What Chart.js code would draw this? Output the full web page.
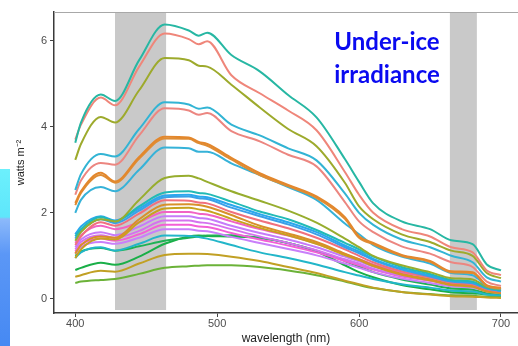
<!DOCTYPE html>
<html>
<head>
<meta charset="utf-8">
<script src="https://cdn.jsdelivr.net/npm/chart.js@4.4.1/dist/chart.umd.min.js"></script>
<style>
	html, body { margin: 0; padding: 0; background: #ffffff; }
	#wrap { position: relative; width: 518px; height: 346px; overflow: hidden; }
	#side {
		position: absolute; left: 0; top: 169px; width: 10px; height: 177px;
		background: linear-gradient(to bottom, #6cf0fc 0px, #5ee6fb 48px, #8cb9fa 50px, #5b97f6 85px, #4689f3 177px);
	}
	#label {
		position: absolute; left: 310px; top: 24px; width: 154px;
		font-family: Lato, "Open Sans", sans-serif; font-weight: bold; font-size: 24px;
		line-height: 33px; color: #0a0af0; text-align: center;
	}
</style>
</head>
<body>
<div id="wrap">
	<canvas id="spec" width="518" height="346"></canvas>
	<div id="side"></div>
	<div id="label">Under-ice<br>irradiance</div>
</div>
<script>
// wavelength grid (nm) shared by every spectrum
var wavelengths = [400, 404, 418, 428, 445, 463, 480, 487, 493, 510, 530, 550, 570, 590, 600, 610, 630, 650, 665, 680, 690, 700];

// shaded wavebands (nm)
var bandStarts = [428, 664];
var bandEnds = [464, 683];

var xTicks = [400, 500, 600, 700];
var yTicks = [0, 2, 4, 6];

// under-ice irradiance spectra, watts m-2
var tealTop   = [3.63, 4.10, 4.75, 4.60, 5.55, 6.38, 6.24, 6.12, 6.19, 5.67, 5.29, 4.74, 4.22, 3.25, 2.72, 2.22, 1.80, 1.62, 1.36, 1.27, 0.80, 0.66];
var salmonTop = [3.70, 4.05, 4.68, 4.50, 5.40, 6.17, 6.04, 5.92, 5.99, 5.20, 4.78, 4.38, 3.92, 2.95, 2.42, 2.00, 1.62, 1.45, 1.20, 1.08, 0.66, 0.55];
var oliveTop  = [3.23, 3.60, 4.23, 4.10, 4.85, 5.60, 5.55, 5.42, 5.40, 4.98, 4.45, 3.95, 3.55, 2.70, 2.15, 1.85, 1.50, 1.32, 1.12, 1.00, 0.60, 0.48];
var tealMid   = [2.53, 2.90, 3.37, 3.31, 3.95, 4.57, 4.52, 4.42, 4.45, 4.05, 3.80, 3.50, 3.22, 2.45, 2.00, 1.72, 1.38, 1.20, 1.00, 0.85, 0.50, 0.40];
var salmonMid = [2.42, 2.75, 3.16, 3.12, 3.80, 4.43, 4.38, 4.28, 4.32, 3.90, 3.66, 3.35, 3.08, 2.25, 1.80, 1.55, 1.22, 1.05, 0.85, 0.74, 0.40, 0.30];
var orangeA   = [2.23, 2.50, 2.93, 2.73, 3.30, 3.77, 3.75, 3.65, 3.60, 3.28, 2.92, 2.65, 2.38, 1.90, 1.45, 1.30, 1.02, 0.88, 0.64, 0.62, 0.32, 0.26];
var orangeB   = [2.18, 2.46, 2.88, 2.70, 3.26, 3.73, 3.72, 3.62, 3.56, 3.24, 2.88, 2.62, 2.35, 1.86, 1.42, 1.27, 1.00, 0.86, 0.62, 0.60, 0.30, 0.24];
var cyanMid   = [2.00, 2.30, 2.60, 2.50, 3.00, 3.52, 3.50, 3.42, 3.42, 3.15, 2.88, 2.60, 2.30, 1.75, 1.50, 1.25, 0.98, 0.82, 0.60, 0.55, 0.30, 0.23];
var oliveMid  = [1.35, 1.55, 1.85, 1.80, 2.30, 2.81, 2.86, 2.80, 2.72, 2.50, 2.28, 2.05, 1.77, 1.40, 1.20, 1.00, 0.78, 0.62, 0.48, 0.45, 0.28, 0.22];
var tealC     = [1.45, 1.62, 1.90, 1.80, 2.15, 2.47, 2.50, 2.46, 2.44, 2.26, 2.03, 1.85, 1.60, 1.30, 1.15, 0.98, 0.74, 0.58, 0.44, 0.40, 0.26, 0.20];
var blueC     = [1.50, 1.68, 1.92, 1.82, 2.10, 2.40, 2.42, 2.38, 2.36, 2.18, 1.97, 1.78, 1.55, 1.24, 1.10, 0.93, 0.70, 0.55, 0.42, 0.38, 0.25, 0.19];
var blueC2    = [1.40, 1.58, 1.85, 1.76, 2.05, 2.36, 2.38, 2.34, 2.32, 2.12, 1.92, 1.73, 1.50, 1.20, 1.06, 0.90, 0.68, 0.52, 0.40, 0.36, 0.24, 0.18];
var salmonC   = [1.25, 1.45, 1.78, 1.70, 1.98, 2.29, 2.28, 2.24, 2.22, 2.02, 1.82, 1.64, 1.42, 1.15, 1.00, 0.85, 0.64, 0.50, 0.38, 0.34, 0.22, 0.17];
var orangeC   = [1.05, 1.25, 1.45, 1.42, 1.85, 2.19, 2.20, 2.18, 2.14, 1.95, 1.70, 1.52, 1.32, 1.05, 0.92, 0.78, 0.58, 0.45, 0.34, 0.30, 0.18, 0.14];
var goldC     = [0.95, 1.15, 1.40, 1.38, 1.78, 2.10, 2.12, 2.08, 2.05, 1.86, 1.65, 1.48, 1.28, 1.02, 0.90, 0.76, 0.56, 0.43, 0.32, 0.28, 0.17, 0.13];
var pinkC     = [1.30, 1.48, 1.70, 1.62, 1.78, 2.02, 2.02, 1.98, 1.96, 1.80, 1.62, 1.47, 1.28, 1.04, 0.92, 0.80, 0.62, 0.50, 0.40, 0.36, 0.25, 0.20];
var violetC   = [1.20, 1.38, 1.55, 1.48, 1.68, 1.92, 1.92, 1.88, 1.86, 1.70, 1.53, 1.38, 1.20, 0.98, 0.87, 0.75, 0.58, 0.46, 0.36, 0.32, 0.22, 0.17];
var orchidC   = [1.15, 1.32, 1.48, 1.42, 1.58, 1.82, 1.82, 1.78, 1.76, 1.62, 1.45, 1.30, 1.13, 0.92, 0.82, 0.70, 0.54, 0.43, 0.34, 0.30, 0.20, 0.16];
var magentaC  = [1.10, 1.25, 1.40, 1.35, 1.50, 1.72, 1.72, 1.68, 1.67, 1.53, 1.38, 1.24, 1.08, 0.88, 0.78, 0.68, 0.52, 0.42, 0.34, 0.30, 0.21, 0.17];
var lilacC    = [1.05, 1.20, 1.32, 1.28, 1.42, 1.62, 1.62, 1.58, 1.57, 1.44, 1.30, 1.16, 1.01, 0.82, 0.72, 0.62, 0.47, 0.37, 0.29, 0.26, 0.17, 0.13];
var tealLow   = [0.95, 1.08, 1.20, 1.12, 1.28, 1.47, 1.46, 1.44, 1.40, 1.25, 1.08, 0.95, 0.80, 0.62, 0.54, 0.46, 0.34, 0.26, 0.19, 0.17, 0.10, 0.08];
var greenMid  = [1.00, 1.10, 1.18, 1.12, 1.22, 1.35, 1.42, 1.45, 1.47, 1.48, 1.42, 1.30, 1.12, 0.88, 0.75, 0.62, 0.45, 0.33, 0.24, 0.21, 0.13, 0.10];
var greenLow  = [0.67, 0.72, 0.84, 0.79, 0.98, 1.28, 1.45, 1.47, 1.46, 1.45, 1.42, 1.30, 1.10, 0.78, 0.62, 0.50, 0.32, 0.22, 0.15, 0.13, 0.10, 0.09];
var goldLow   = [0.51, 0.55, 0.65, 0.63, 0.82, 1.02, 1.05, 1.05, 1.04, 0.98, 0.88, 0.74, 0.60, 0.42, 0.34, 0.26, 0.16, 0.10, 0.06, 0.05, 0.03, 0.02];
var oliveLow  = [0.37, 0.40, 0.44, 0.46, 0.58, 0.72, 0.76, 0.77, 0.78, 0.78, 0.74, 0.66, 0.55, 0.40, 0.32, 0.25, 0.16, 0.11, 0.08, 0.07, 0.05, 0.05];

var spectra = [
	{ values: tealTop, color: "#27b7a3" },
	{ values: salmonTop, color: "#ef867a" },
	{ values: oliveTop, color: "#9daa2c" },
	{ values: tealMid, color: "#32b4d4" },
	{ values: salmonMid, color: "#ec8680" },
	{ values: orangeA, color: "#e3872c" },
	{ values: orangeB, color: "#df8d34" },
	{ values: cyanMid, color: "#36b2d8" },
	{ values: oliveMid, color: "#97ad2e" },
	{ values: tealC, color: "#22bab6" },
	{ values: blueC, color: "#2aa8ee" },
	{ values: blueC2, color: "#3c9fe8" },
	{ values: salmonC, color: "#f0707e" },
	{ values: orangeC, color: "#d8902a" },
	{ values: goldC, color: "#c8a21e" },
	{ values: pinkC, color: "#f163c4" },
	{ values: violetC, color: "#c67bf9" },
	{ values: orchidC, color: "#d572ee" },
	{ values: magentaC, color: "#f35fd6" },
	{ values: lilacC, color: "#c97ffa" },
	{ values: tealLow, color: "#22b6c9" },
	{ values: greenMid, color: "#1fb255" },
	{ values: greenLow, color: "#1aaf48" },
	{ values: goldLow, color: "#c1a024" },
	{ values: oliveLow, color: "#6bb238" },
];

var datasets = spectra.map(function (s) {
	return {
		data: wavelengths.map(function (w, i) { return { x: w, y: s.values[i] }; }),
		borderColor: s.color,
		borderWidth: 2,
		pointRadius: 0,
		cubicInterpolationMode: "monotone",
		fill: false,
	};
});

// grey wavebands behind the spectra, plus the frame line along the top
var bands = {
	id: "bands",
	beforeDatasetsDraw: function (chart) {
		var ctx = chart.ctx, a = chart.chartArea, x = chart.scales.x;
		ctx.save();
		ctx.fillStyle = "#c9c9c9";
		for (var i = 0; i < bandStarts.length; i++) {
			var x0 = x.getPixelForValue(bandStarts[i]);
			var x1 = x.getPixelForValue(bandEnds[i]);
			ctx.fillRect(x0, a.top, x1 - x0, a.bottom - a.top - 3);
		}
		ctx.restore();
	},
	afterDraw: function (chart) {
		var ctx = chart.ctx, a = chart.chartArea;
		ctx.save();
		ctx.strokeStyle = "#a8a8a8";
		ctx.lineWidth = 1;
		ctx.beginPath();
		ctx.moveTo(a.left, a.top + 0.5);
		ctx.lineTo(a.right, a.top + 0.5);
		ctx.stroke();
		ctx.restore();
	},
};

var tickFont = { family: "'Liberation Sans', Arial, sans-serif", size: 11 };

new Chart(document.getElementById("spec"), {
	type: "line",
	data: { datasets: datasets },
	plugins: [bands],
	options: {
		responsive: false,
		animation: false,
		layout: { padding: { top: 12, right: 0, bottom: 0, left: 0 } },
		plugins: { legend: { display: false }, tooltip: { enabled: false } },
		scales: {
			x: {
				type: "linear",
				min: 385,
				max: 712,
				afterBuildTicks: function (s) { s.ticks = xTicks.map(function (v) { return { value: v }; }); },
				afterFit: function (s) { s.height = 33; },
				grid: { drawOnChartArea: false, drawTicks: true, tickLength: 4, color: "#444" },
				border: { display: true, color: "#3a3a3a", width: 1.5 },
				ticks: { color: "#4d4d4d", font: tickFont, padding: 0, maxRotation: 0 },
				title: {
					display: true, text: "wavelength (nm)", color: "#222",
					font: { family: "'Liberation Sans', Arial, sans-serif", size: 12 },
					padding: { top: 0, bottom: 0 },
				},
			},
			y: {
				type: "linear",
				min: -0.33,
				max: 6.67,
				afterBuildTicks: function (s) { s.ticks = yTicks.map(function (v) { return { value: v }; }); },
				afterFit: function (s) { s.width = 54; },
				grid: { drawOnChartArea: false, drawTicks: true, tickLength: 4, color: "#444" },
				border: { display: true, color: "#3a3a3a", width: 1.5 },
				ticks: { color: "#4d4d4d", font: tickFont, padding: 3 },
				title: {
					display: true, text: "watts m\u207B\u00B2", color: "#222",
					font: { family: "'Liberation Sans', Arial, sans-serif", size: 11 },
					padding: { top: 14, bottom: 0 },
				},
			},
		},
	},
});
</script>
</body>
</html>
